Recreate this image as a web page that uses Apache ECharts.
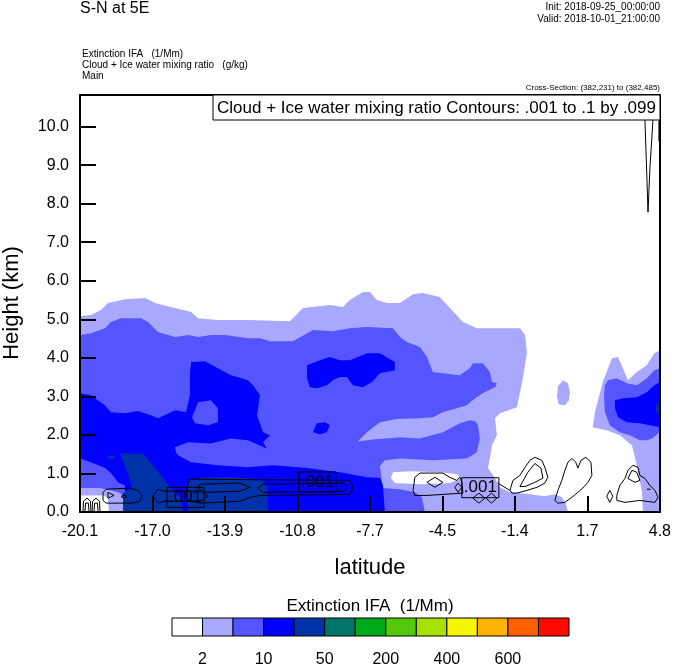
<!DOCTYPE html>
<html><head><meta charset="utf-8">
<script src="https://cdn.jsdelivr.net/npm/echarts@6/dist/echarts.min.js"></script>
<style>html,body{margin:0;padding:0;background:#fff}#c{width:674px;height:668px}</style>
</head><body><div id="c"></div>
<script>
const FONT = '"Liberation Sans", Arial, Helvetica, sans-serif';

// ---- axes ----
const xTickLats = [-20.1, -16.9875, -13.875, -10.7625, -7.65, -4.5375, -1.425, 1.6875, 4.8];
const xTickLabels = ['-20.1','-17.0','-13.9','-10.8','-7.7','-4.5','-1.4','1.7','4.8'];
const yTickHeights = [0,1,2,3,4,5,6,7,8,9,10];
const yTickLabels = ['0.0','1.0','2.0','3.0','4.0','5.0','6.0','7.0','8.0','9.0','10.0'];
const yMax = 10.82;

// ---- colour bar ----
const cbColors = ['#FFFFFF','#A8A8FF','#5555FF','#0000FF','#0033A8','#00766A','#00A81C','#55C80E','#A8E000','#F5F500','#FFB300','#FF6000','#FF0A00'];
const cbLabels = ['2','10','50','200','400','600'];
const cbLabelPos = [1,3,5,7,9,11];

// ---- filled extinction regions [latitude, height km] ----
const lightMain = [[-20.10,5.08],[-19.63,5.11],[-19.20,5.24],[-18.90,5.42],[-18.17,5.52],[-17.31,5.55],[-16.88,5.42],[-16.02,5.29],[-15.33,5.19],[-15.03,5.03],[-14.18,4.98],[-12.89,4.98],[-11.08,4.95],[-10.53,5.29],[-9.37,5.37],[-8.81,5.32],[-8.51,5.50],[-7.95,5.71],[-7.65,5.71],[-7.35,5.50],[-6.92,5.42],[-6.36,5.42],[-5.80,5.65],[-5.38,5.68],[-4.65,5.58],[-4.22,5.29],[-3.66,4.93],[-3.06,4.77],[-1.21,4.77],[-0.99,4.59],[-0.91,4.14],[-1.08,3.47],[-1.34,2.72],[-2.07,2.56],[-2.28,2.43],[-2.20,1.99],[-2.41,1.73],[-2.50,1.39],[-2.58,1.14],[-2.28,0.88],[-2.07,0.64],[-1.64,0.51],[-0.78,0.46],[-0.14,0.41],[0.29,0.46],[0.59,0.38],[0.76,0.23],[0.85,0],[-20.10,0]];
const lightRight = [[1.92,2.20],[2.01,2.59],[2.35,3.37],[2.74,3.99],[3.00,4.02],[3.21,3.73],[3.43,3.42],[3.81,3.63],[4.24,3.81],[4.56,4.12],[4.80,4.20],[4.80,0],[4.07,0],[4.03,0.51],[3.81,1.21],[3.60,1.73],[3.08,1.99],[2.52,2.12]];
const lightBlob = [[0.64,3.42],[0.85,3.34],[0.94,3.11],[0.89,2.90],[0.72,2.77],[0.46,2.79],[0.38,3.00],[0.42,3.26]];
const whitePocket = [[-6.66,1.03],[-5.93,1.06],[-4.65,1.03],[-3.87,0.98],[-3.79,0.85],[-4.22,0.75],[-5.50,0.72],[-6.58,0.75],[-6.75,0.88]];
const mediumMain = [[-20.10,4.59],[-19.63,4.64],[-19.03,4.77],[-18.77,4.93],[-18.34,5.03],[-17.48,5.03],[-17.18,4.93],[-16.75,4.67],[-16.02,4.54],[-15.46,4.59],[-15.03,4.54],[-14.48,4.59],[-13.88,4.59],[-12.89,4.51],[-12.37,4.51],[-11.94,4.43],[-10.96,4.43],[-10.10,4.72],[-9.24,4.69],[-8.51,4.77],[-7.78,4.80],[-6.66,4.77],[-6.36,4.54],[-6.06,4.41],[-5.50,4.28],[-5.20,4.02],[-4.95,3.63],[-4.52,3.60],[-3.79,3.55],[-3.36,3.73],[-3.23,3.86],[-2.80,3.86],[-2.50,3.63],[-2.41,3.37],[-2.20,3.34],[-2.28,3.21],[-2.80,3.08],[-3.36,2.85],[-3.27,2.51],[-3.01,2.25],[-2.93,1.91],[-3.06,1.55],[-3.49,1.39],[-4.95,1.34],[-6.36,1.39],[-7.01,1.34],[-7.22,1.19],[-7.09,0.62],[-6.36,0.59],[-5.72,0.51],[-5.42,0.38],[-5.29,0],[-20.10,0]];
const lightTongue = [[-8.17,1.83],[-7.78,2.07],[-7.22,2.33],[-6.49,2.41],[-5.50,2.43],[-4.95,2.46],[-4.52,2.59],[-3.49,2.77],[-2.80,3.08],[-2.20,3.26],[-2.07,2.90],[-2.71,2.38],[-2.93,2.33],[-3.36,2.38],[-3.79,2.30],[-4.52,2.07],[-5.50,1.91],[-6.36,1.94],[-7.52,1.88]];
const lightCorner = [[-20.10,0.62],[-19.24,0.62],[-18.73,0.56],[-18.38,0.49],[-18.25,0.38],[-18.21,0],[-20.10,0]];
const whiteCorner = [[-20.10,0.43],[-19.07,0.43],[-18.90,0.36],[-18.86,0],[-20.10,0]];
const mediumRight = [[2.44,3.29],[2.57,3.42],[2.95,3.47],[3.38,3.34],[3.81,3.29],[4.24,3.47],[4.56,3.68],[4.80,3.73],[4.80,2.07],[4.46,1.91],[4.24,1.86],[3.94,1.86],[3.51,1.99],[3.08,2.07],[2.65,2.25],[2.44,2.59],[2.40,3.03]];
const blueMain = [[-20.10,3.08],[-19.63,3.03],[-19.03,2.77],[-18.77,2.59],[-18.17,2.56],[-17.61,2.62],[-17.05,2.51],[-16.75,2.43],[-16.02,2.64],[-15.55,2.59],[-15.38,3.03],[-15.38,3.55],[-15.33,3.89],[-14.73,3.91],[-14.18,3.73],[-13.62,3.55],[-12.89,3.42],[-12.67,3.29],[-12.37,3.03],[-12.50,2.51],[-12.24,2.07],[-11.94,1.99],[-12.24,1.81],[-12.07,1.65],[-12.89,1.86],[-13.62,1.91],[-14.48,1.78],[-15.46,1.81],[-16.02,1.68],[-15.98,1.55],[-15.89,1.47],[-15.33,1.29],[-14.18,1.21],[-12.89,1.16],[-11.81,1.21],[-10.35,1.14],[-8.94,1.03],[-7.78,0.90],[-7.22,0.88],[-7.09,0.69],[-7.01,0],[-18.17,0],[-18.17,0.69],[-18.47,0.77],[-18.77,1.01],[-19.03,1.14],[-19.63,1.29],[-20.10,1.39]];
const blueHole = [[-15.03,2.85],[-14.48,2.90],[-14.18,2.69],[-14.18,2.33],[-14.60,2.25],[-15.16,2.30],[-15.29,2.46],[-15.16,2.64]];
const blueUpper = [[-10.35,3.81],[-9.80,3.94],[-9.37,4.02],[-8.94,3.94],[-8.51,3.94],[-7.78,4.12],[-7.22,4.12],[-6.58,3.89],[-6.58,3.68],[-7.22,3.60],[-7.56,3.37],[-7.95,3.24],[-8.38,3.29],[-8.64,3.50],[-8.94,3.50],[-9.24,3.42],[-9.50,3.29],[-9.93,3.21],[-10.23,3.24],[-10.35,3.47]];
const blueSmall = [[-10.10,2.07],[-9.93,2.30],[-9.58,2.33],[-9.37,2.25],[-9.50,2.07],[-9.80,2.02]];
const blueRight = [[2.87,2.90],[3.21,2.95],[3.81,2.98],[4.24,3.11],[4.56,3.29],[4.80,3.37],[4.80,2.20],[4.37,2.25],[3.94,2.30],[3.38,2.33],[3.00,2.46],[2.87,2.69]];
const darkDiagonal = [[-18.38,1.52],[-17.40,1.52],[-16.79,1.08],[-16.24,0.64],[-15.81,0.38],[-15.68,0],[-18.25,0],[-18.25,0.49],[-17.87,0.64],[-18.04,0.99]];
const darkBottom = [[-15.46,0.82],[-14.95,0.88],[-13.79,0.90],[-12.93,0.88],[-12.24,0.82],[-12.07,0.64],[-12.03,0],[-15.46,0]];
const darkSpeck = [[-18.90,1.46],[-18.60,1.46],[-18.64,1.39],[-18.90,1.39]];
const darkRight = [[4.63,2.77],[4.80,2.82],[4.80,2.53],[4.63,2.59]];

// ---- cloud + ice water mixing ratio contour lines ----
const archA1 = [[-19.97,0],[-19.95,0.28],[-19.80,0.36],[-19.65,0.28],[-19.63,0]];
const archA2 = [[-19.89,0],[-19.86,0.23],[-19.80,0.28],[-19.74,0.23],[-19.71,0]];
const archB1 = [[-19.58,0],[-19.56,0.28],[-19.41,0.36],[-19.26,0.28],[-19.24,0]];
const archB2 = [[-19.50,0],[-19.47,0.23],[-19.41,0.28],[-19.35,0.23],[-19.32,0]];
const loopLeft = [[-18.98,0.59],[-17.95,0.62],[-17.61,0.56],[-17.44,0.43],[-17.52,0.28],[-17.87,0.23],[-18.98,0.23],[-19.11,0.30],[-19.11,0.51],[-18.98,0.59]];
const loopTriangle = [[-18.90,0.51],[-18.90,0.36],[-18.64,0.43],[-18.90,0.51]];
const loopDot = [[-18.34,0.40],[-18.21,0.44],[-18.08,0.40],[-18.21,0.36],[-18.34,0.40]];
const loopLabel1 = [[-16.97,0.41],[-16.75,0.59],[-16.45,0.54],[-14.95,0.54],[-14.60,0.41],[-14.95,0.28],[-16.45,0.28],[-16.75,0.23],[-16.97,0.41]];
const loopLong = [[-15.38,0.85],[-8.51,0.82],[-8.38,0.64],[-8.51,0.46],[-12.37,0.43],[-12.80,0.38],[-13.23,0.28],[-14.95,0.23],[-15.46,0.30],[-15.55,0.56],[-15.38,0.85]];
const loopLongInnerA = [[-14.95,0.72],[-13.23,0.75],[-12.80,0.64],[-13.23,0.54],[-14.73,0.51],[-15.03,0.62],[-14.95,0.72]];
const loopLongInnerB = [[-12.46,0.62],[-12.24,0.72],[-8.77,0.75],[-8.60,0.64],[-8.77,0.54],[-12.24,0.51],[-12.46,0.62]];
const loopMid = [[-5.72,0.43],[-5.80,0.56],[-5.72,0.90],[-5.50,1.01],[-4.52,1.01],[-4.22,0.90],[-3.92,0.82],[-3.79,0.90],[-3.70,0.77],[-3.66,0.49],[-5.20,0.43],[-5.72,0.43]];
const loopMidEye = [[-5.20,0.77],[-4.86,0.90],[-4.52,0.77],[-4.86,0.64],[-5.20,0.77]];
const loopMidDot = [[-4.00,0.64],[-3.87,0.75],[-3.70,0.64],[-3.87,0.51],[-4.00,0.64]];
const loopUnderL = [[-3.23,0.36],[-2.97,0.49],[-2.71,0.36],[-2.97,0.23],[-3.23,0.36]];
const loopUnderR = [[-2.67,0.36],[-2.43,0.49],[-2.20,0.36],[-2.43,0.23],[-2.67,0.36]];
const linkMid = [[-2.16,0.75],[-1.64,0.56]];
const peakA = [[-1.64,0.56],[-1.51,0.82],[-1.21,0.95],[-0.99,1.16],[-0.78,1.34],[-0.57,1.42],[-0.27,1.34],[-0.14,1.16],[-0.01,0.90],[-0.14,0.75],[-0.48,0.64],[-0.91,0.56],[-1.34,0.49],[-1.55,0.49],[-1.64,0.56]];
const peakAInner = [[-1.21,0.66],[-0.87,1.03],[-0.57,1.26],[-0.31,1.14],[-0.22,0.88],[-0.57,0.77],[-0.99,0.66],[-1.21,0.66]];
const peakB = [[0.29,0.30],[0.42,0.56],[0.59,0.82],[0.72,1.08],[0.85,1.29],[1.02,1.39],[1.19,1.29],[1.28,1.14],[1.41,1.34],[1.62,1.42],[1.84,1.29],[1.88,0.95],[1.71,0.77],[1.49,0.62],[1.28,0.51],[1.02,0.38],[0.72,0.25],[0.42,0.23],[0.29,0.30]];
const ovalC = [[2.65,0.56],[2.78,0.41],[2.65,0.25],[2.52,0.41],[2.65,0.56]];
const peakD = [[2.95,0.43],[3.08,0.69],[3.30,0.87],[3.43,1.08],[3.64,1.21],[3.86,1.16],[3.94,0.95],[4.16,0.87],[4.37,0.69],[4.59,0.56],[4.72,0.38],[4.59,0.25],[3.94,0.30],[3.30,0.25],[2.95,0.30],[2.95,0.43]];
const peakDInner = [[3.43,0.87],[3.60,1.08],[3.81,1.03],[3.94,0.82],[3.73,0.77],[3.43,0.87]];
const peakDDash = [[4.24,0.59],[4.40,0.59]];
const spikeTop = [[4.14,10.82],[4.16,10.15],[4.23,8.9],[4.29,7.78],[4.37,8.9],[4.50,10.15],[4.52,10.82]];
const edgeTop = [[4.76,10.15],[4.76,9.62]];

// ---- contour labels ----
const contourLabelPts = [[-15.57,0.38],[-9.91,0.78],[-2.91,0.63]];
const contourLabelText = ['.001','.001','.001'];

const patches = [
  {level:1, pts:lightMain},{level:1, pts:lightRight},{level:1, pts:lightBlob},
  {level:0, pts:whitePocket},
  {level:2, pts:mediumMain},{level:1, pts:lightTongue},
  {level:1, pts:lightCorner},{level:0, pts:whiteCorner},
  {level:2, pts:mediumRight},
  {level:3, pts:blueMain},{level:2, pts:blueHole},{level:3, pts:blueUpper},{level:3, pts:blueSmall},{level:3, pts:blueRight},
  {level:4, pts:darkDiagonal},{level:4, pts:darkBottom},{level:4, pts:darkSpeck},{level:4, pts:darkRight}
];
const contourLines = [archA1,archA2,archB1,archB2,loopLeft,loopTriangle,loopDot,loopLabel1,loopLong,loopLongInnerA,loopLongInnerB,
  loopMid,loopMidEye,loopMidDot,loopUnderL,loopUnderR,linkMid,peakA,peakAInner,peakB,ovalC,peakD,peakDInner,peakDDash,spikeTop,edgeTop];

function labelFor(v, vals, labels){
  for (let i=0;i<vals.length;i++){ if (Math.abs(v-vals[i])<1e-6) return labels[i]; }
  return '';
}

const chart = echarts.init(document.getElementById('c'), null, {renderer:'canvas'});
const series = [];
series.push({
  type:'custom', xAxisIndex:0, yAxisIndex:0, silent:true, clip:true, z:1,
  data: patches.map(p => p.pts[0]),
  renderItem: (params, api) => {
    const p = patches[params.dataIndex];
    return {type:'polygon', shape:{points:p.pts.map(q => api.coord(q))}, style:{fill:cbColors[p.level], stroke:null}};
  }
});
contourLines.forEach(l => series.push({
  type:'line', xAxisIndex:0, yAxisIndex:0, data:l, symbol:'none', showSymbol:false, silent:true, z:3,
  lineStyle:{color:'#000', width:1}
}));
series.push({
  type:'custom', xAxisIndex:0, yAxisIndex:0, silent:true, z:4,
  data: contourLabelPts,
  renderItem: (params, api) => {
    const c = api.coord([api.value(0), api.value(1)]);
    return {type:'text', x:c[0], y:c[1], style:{text:contourLabelText[params.dataIndex], align:'center', verticalAlign:'middle',
      font:'17px '+FONT, fill:'#000', borderColor:'#000', borderWidth:1, padding:[2,2,1,2]}};
  }
});
series.push({
  type:'custom', xAxisIndex:2, yAxisIndex:2, silent:true, clip:false,
  data: cbColors.map((c,i) => [i+0.5, 0.5]),
  renderItem: (params, api) => {
    const i = params.dataIndex;
    const p0 = api.coord([i,1]), p1 = api.coord([i+1,0]);
    return {type:'rect', shape:{x:p0[0], y:p0[1], width:p1[0]-p0[0], height:p1[1]-p0[1]},
      style:{fill:cbColors[i], stroke:'#000', lineWidth:1}};
  }
});

const option = {
  animation:false,
  backgroundColor:'#fff',
  grid:[
    {left:80, top:95, width:580, height:417, show:false},
    {left:172, top:618, width:397, height:21, show:false}
  ],
  xAxis:[
    {gridIndex:0, type:'value', min:-20.1, max:4.8, position:'bottom', z:10,
     axisLine:{show:true, onZero:false, lineStyle:{color:'#000', width:2}},
     axisTick:{show:true, inside:true, length:16, customValues:xTickLats, lineStyle:{color:'#000', width:2}},
     axisLabel:{show:true, customValues:xTickLats, formatter:v => labelFor(v, xTickLats, xTickLabels), color:'#000', fontSize:16, fontFamily:FONT, margin:12},
     splitLine:{show:false}},
    {gridIndex:0, type:'value', min:-20.1, max:4.8, position:'top', z:10,
     axisLine:{show:true, onZero:false, lineStyle:{color:'#000', width:2}}, axisTick:{show:false}, axisLabel:{show:false}, splitLine:{show:false}},
    {gridIndex:1, type:'value', min:0, max:13, z:10,
     axisLine:{show:false}, axisTick:{show:false}, splitLine:{show:false},
     axisLabel:{show:true, customValues:cbLabelPos, formatter:v => labelFor(v, cbLabelPos, cbLabels), color:'#000', fontSize:16, fontFamily:FONT, margin:16}}
  ],
  yAxis:[
    {gridIndex:0, type:'value', min:0, max:yMax, position:'left', z:10,
     axisLine:{show:true, onZero:false, lineStyle:{color:'#000', width:2}},
     axisTick:{show:true, inside:true, length:16, customValues:yTickHeights, lineStyle:{color:'#000', width:2}},
     axisLabel:{show:true, customValues:yTickHeights, formatter:v => labelFor(v, yTickHeights, yTickLabels), color:'#000', fontSize:16, fontFamily:FONT, margin:11},
     splitLine:{show:false}},
    {gridIndex:0, type:'value', min:0, max:yMax, position:'right', z:10,
     axisLine:{show:true, onZero:false, lineStyle:{color:'#000', width:2}}, axisTick:{show:false}, axisLabel:{show:false}, splitLine:{show:false}},
    {gridIndex:1, type:'value', min:0, max:1, show:false}
  ],
  graphic:[
    {type:'text', x:80, y:9, z:100, style:{text:'S-N at 5E', font:'16px '+FONT, fill:'#000', align:'left', verticalAlign:'middle'}},
    {type:'text', x:660, y:7, z:100, style:{text:'Init: 2018-09-25_00:00:00', font:'10px '+FONT, fill:'#000', align:'right', verticalAlign:'middle'}},
    {type:'text', x:660, y:19, z:100, style:{text:'Valid: 2018-10-01_21:00:00', font:'10px '+FONT, fill:'#000', align:'right', verticalAlign:'middle'}},
    {type:'text', x:82, y:54, z:100, style:{text:'Extinction IFA   (1/Mm)', font:'10px '+FONT, fill:'#000', align:'left', verticalAlign:'middle'}},
    {type:'text', x:82, y:65, z:100, style:{text:'Cloud + Ice water mixing ratio   (g/kg)', font:'10px '+FONT, fill:'#000', align:'left', verticalAlign:'middle'}},
    {type:'text', x:82, y:76, z:100, style:{text:'Main', font:'10px '+FONT, fill:'#000', align:'left', verticalAlign:'middle'}},
    {type:'text', x:660, y:88, z:100, style:{text:'Cross-Section: (382,231) to (382,485)', font:'8px '+FONT, fill:'#000', align:'right', verticalAlign:'middle'}},
    {type:'rect', z:100, shape:{x:213, y:95, width:447, height:25}, style:{fill:'#fff', stroke:'#000', lineWidth:1}},
    {type:'text', x:436.5, y:108, z:101, style:{text:'Cloud + Ice water mixing ratio Contours: .001 to .1 by .099', font:'17px '+FONT, fill:'#000', align:'center', verticalAlign:'middle'}},
    {type:'text', x:12, y:303, z:100, rotation:Math.PI/2, style:{text:'Height (km)', font:'22px '+FONT, fill:'#000', align:'center', verticalAlign:'middle'}},
    {type:'text', x:370, y:568, z:100, style:{text:'latitude', font:'22px '+FONT, fill:'#000', align:'center', verticalAlign:'middle'}},
    {type:'text', x:370, y:606, z:100, style:{text:'Extinction IFA  (1/Mm)', font:'17px '+FONT, fill:'#000', align:'center', verticalAlign:'middle'}}
  ],
  series: series
};
chart.setOption(option);
</script></body></html>
